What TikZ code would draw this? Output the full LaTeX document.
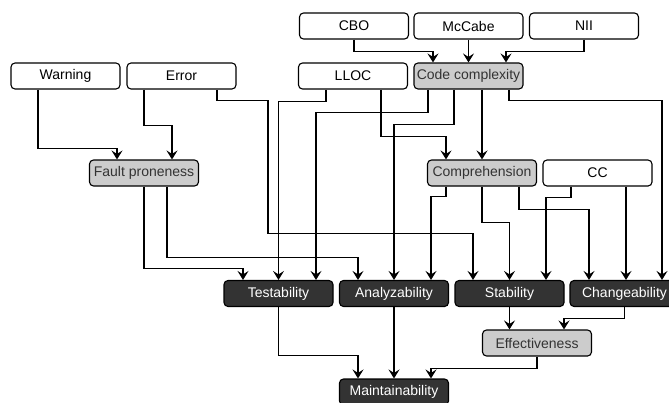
\documentclass[tikz,border=0pt]{standalone}
\usepackage{fontspec}
\setmainfont{Liberation Sans}
\usetikzlibrary{arrows.meta}
\definecolor{boxgray}{HTML}{CCCCCC}
\definecolor{boxdark}{HTML}{333333}
\begin{document}
\begin{tikzpicture}[x=1pt,y=-1pt]
  \tikzstyle{box}=[draw=black, line width=1.1pt, rounded corners=4pt, minimum width=109pt, minimum height=26pt, inner sep=0pt, font=\fontsize{14}{16}\selectfont]
  \tikzstyle{metric}=[box, fill=white, text=black]
  \tikzstyle{factor}=[box, fill=boxgray, text=boxdark]
  \tikzstyle{quality}=[box, fill=boxdark, text=white]
  \tikzstyle{link}=[color=black, line width=1.1pt, -{Stealth[length=9pt,width=11pt,inset=3.5pt]}]
  \useasboundingbox (0,0) rectangle (669,402);
  \node[metric]  (CBO)  at (354,26)    {CBO};
  \node[metric]  (McC)  at (468.5,26)  {McCabe};
  \node[metric]  (NII)  at (584,26)    {NII};
  \node[metric]  (Wrn)  at (65.5,76)   {Warning};
  \node[metric]  (Err)  at (181.5,76)  {Error};
  \node[metric]  (LLOC) at (353,76)    {LLOC};
  \node[factor]  (CCx)  at (468.5,76)  {Code complexity};
  \node[factor]  (FP)   at (144,173)   {Fault proneness};
  \node[factor]  (Comp) at (482,173)   {Comprehension};
  \node[metric]  (CC)   at (597.5,173) {CC};
  \node[quality] (Test) at (278.5,293.5) {Testability};
  \node[quality] (Anal) at (394,293.5)   {Analyzability};
  \node[quality] (Stab) at (509.5,293.5) {Stability};
  \node[quality] (Chg)  at (624.5,293.5) {Changeability};
  \node[factor]  (Eff)  at (537,343)   {Effectiveness};
  \node[quality] (Main) at (394,392)   {Maintainability};
  % metrics -> code complexity
  \draw [link] (CBO.south) -- ++(0,12) -| ([xshift=-35.5]CCx.north);
  \draw [link] (McC.south) -- (CCx.north);
  \draw [link] (NII.south) -- ++(0,12) -| ([xshift=37.5]CCx.north);
  % warnings and errors
  \draw [link] ([xshift=-27.5]Wrn.south) -- ++(0,59) -| ([xshift=-27]FP.north);
  \draw [link] ([xshift=-37.5]Err.south) -- ++(0,36) -| ([xshift=28]FP.north);
  \draw [link] ([xshift=35.5]Err.south) -- ++(0,11) -- ++(51,0) -- ++(0,133) -| ([xshift=-36.5]Stab.north);
  % size and complexity
  \draw [link] ([xshift=-27]LLOC.south) -- ++(0,12) -| (Test.north);
  \draw [link] ([xshift=28]LLOC.south) -- ++(0,47) -| ([xshift=-36]Comp.north);
  \draw [link] ([xshift=-40.5]CCx.south) -- ++(0,23) -| ([xshift=37.5]Test.north);
  \draw [link] ([xshift=-14.5]CCx.south) -- ++(0,35) -| (Anal.north);
  \draw [link] ([xshift=13.5]CCx.south) -- (Comp.north);
  \draw [link] ([xshift=40.5]CCx.south) -- ++(0,11) -| ([xshift=37.5]Chg.north);
  % factors -> qualities
  \draw [link] (FP.south) -- ++(0,82) -| ([xshift=-35.5]Test.north);
  \draw [link] ([xshift=23]FP.south) -- ++(0,71) -| ([xshift=-36]Anal.north);
  \draw [link] ([xshift=-36]Comp.south) -- ++(0,10) -| ([xshift=37]Anal.north);
  \draw [link] (Comp.south) -- ++(0,36) -| (Stab.north);
  \draw [link] ([xshift=37]Comp.south) -- ++(0,23) -| ([xshift=-35.5]Chg.north);
  \draw [link] ([xshift=-26.5]CC.south) -- ++(0,11) -| ([xshift=36.5]Stab.north);
  \draw [link] ([xshift=28.5]CC.south) -- ([xshift=1.5]Chg.north);
  % effectiveness and maintainability
  \draw [link] (Stab.south) -- ([xshift=-27.5]Eff.north);
  \draw [link] (Chg.south) -- ++(0,11) -| ([xshift=27]Eff.north);
  \draw [link] (Test.south) -- ++(0,48) -| ([xshift=-36]Main.north);
  \draw [link] (Anal.south) -- (Main.north);
  \draw [link] (Eff.south) -- ++(0,12) -| ([xshift=37]Main.north);
\end{tikzpicture}
\end{document}
